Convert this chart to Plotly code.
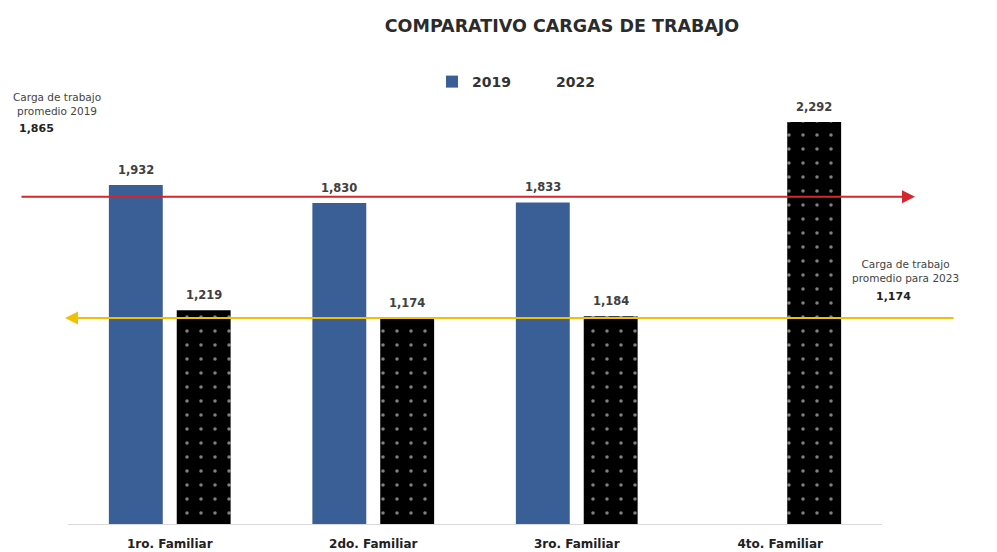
import plotly.graph_objects as go

categories = ["1ro. Familiar", "2do. Familiar", "3ro. Familiar", "4to. Familiar"]
values_2019 = [1932, 1830, 1833, None]
values_2022 = [1219, 1174, 1184, 2292]
avg_2019 = 1865
avg_2023 = 1174

def fmt(v):
    return "" if v is None else f"{v:,}"

BLUE = "#3a5f96"
# page body has an 8px margin: figure is sized so it fits the window
OFF = 8
W, H = 997 - OFF, 552 - OFF
L, R, T, B = 60, 115, 78, 28
PW = W - L - R
PH = H - T - B

def sx(xscreen):
    return (xscreen - OFF - L) / PW

fig = go.Figure()
fig.add_trace(go.Bar(
    x=categories, y=values_2019, name="2019",
    marker=dict(color=BLUE, line=dict(width=0)),
))
fig.add_trace(go.Bar(
    x=categories, y=values_2022, name="2022", showlegend=False,
    marker=dict(color="black", line=dict(width=0),
                pattern=dict(shape=".", fgcolor="white", bgcolor="black", size=14, solidity=0.05)),
))
# legend-only entry for 2022 (no visible marker, as in the reference)
fig.add_trace(go.Scatter(
    x=[None], y=[None], name="2022", mode="markers",
    marker=dict(color="rgba(0,0,0,0)", size=1),
))

lbl_font = dict(family="DejaVu Sans", size=11.5, color="#404040", weight="bold")
note_font = dict(family="DejaVu Sans", size=10.5, color="#444444")
val_font = dict(family="DejaVu Sans", size=11, color="#222222")
annotations = []
for cat, v in zip(categories, values_2019):
    if v is not None:
        annotations.append(dict(x=cat, y=v, xref="x", yref="y", xshift=-34, yshift=15,
                                text=fmt(v), showarrow=False, font=lbl_font))
for cat, v in zip(categories, values_2022):
    if v is not None:
        annotations.append(dict(x=cat, y=v, xref="x", yref="y", xshift=34, yshift=15,
                                text=fmt(v), showarrow=False, font=lbl_font))

annotations += [
    # red average arrow (2019)
    dict(x=sx(915), xref="paper", y=avg_2019, yref="y",
         ax=-895, ay=0, axref="pixel", ayref="pixel", text="",
         showarrow=True, arrowhead=2, arrowsize=1.3, arrowwidth=2, arrowcolor="#d7262b"),
    # yellow average arrow (2023)
    dict(x=sx(65), xref="paper", y=avg_2023, yref="y",
         ax=890, ay=0, axref="pixel", ayref="pixel", text="",
         showarrow=True, arrowhead=2, arrowsize=1.3, arrowwidth=2, arrowcolor="#f2c000"),
    dict(x=sx(57), xref="paper", xanchor="center", y=avg_2019, yref="y", yshift=93,
         text="Carga de trabajo<br>promedio 2019", showarrow=False,
         font=note_font, align="center"),
    dict(x=sx(36), xref="paper", xanchor="center", y=avg_2019, yref="y", yshift=68,
         text="<b>" + fmt(avg_2019) + "</b>", showarrow=False, font=val_font),
    dict(x=sx(905), xref="paper", xanchor="center", y=avg_2023, yref="y", yshift=47,
         text="Carga de trabajo<br>promedio para 2023", showarrow=False,
         font=note_font, align="center"),
    dict(x=sx(893), xref="paper", xanchor="center", y=avg_2023, yref="y", yshift=22,
         text="<b>" + fmt(avg_2023) + "</b>", showarrow=False, font=val_font),
]

fig.update_layout(
    width=W, height=H,
    margin=dict(l=L, r=R, t=T, b=B, autoexpand=False),
    paper_bgcolor="white", plot_bgcolor="white",
    title=dict(text="<b>COMPARATIVO CARGAS DE TRABAJO</b>", x=(562 - OFF) / W, xanchor="center",
               y=1 - (25 - OFF + 1) / H, yanchor="middle",
               font=dict(family="DejaVu Sans", size=17.5, color="#2b2b2b")),
    barmode="group", bargap=0.333, bargroupgap=0.206,
    showlegend=True,
    legend=dict(orientation="h", x=sx(516), xanchor="center", y=1 + 4 / PH,
                yanchor="middle", itemwidth=30,
                font=dict(family="DejaVu Sans", size=14, color="#333333", weight="bold"),
                bgcolor="rgba(0,0,0,0)"),
    xaxis=dict(showline=True, linecolor="#d9d9d9", linewidth=1, ticks="",
               range=[-0.5, 3.5], automargin=False, ticklabelstandoff=9,
               tickfont=dict(family="DejaVu Sans", size=12, color="#222222", weight="bold"),
               showgrid=False),
    yaxis=dict(range=[0, 2497], visible=False, showgrid=False, automargin=False),
    annotations=annotations,
    font=dict(family="DejaVu Sans"),
)

fig.write_html("out.html")
